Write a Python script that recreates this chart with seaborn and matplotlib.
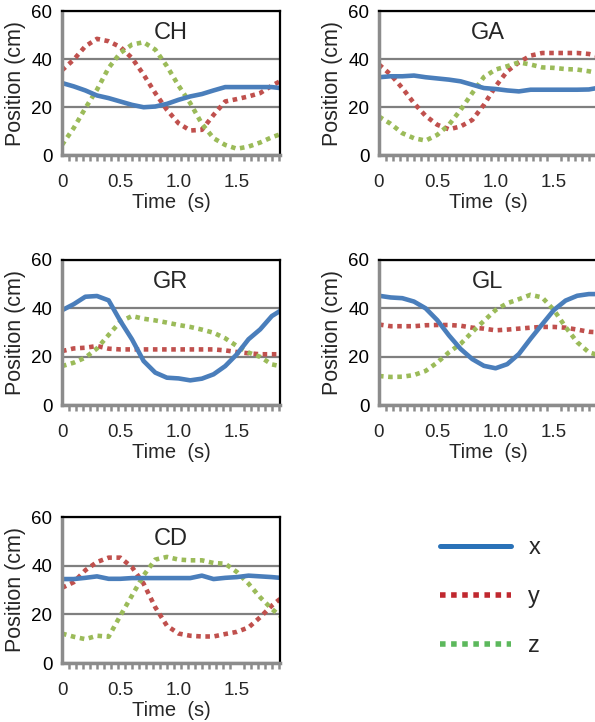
import numpy as np
import pandas as pd
from matplotlib import pyplot as plt
from matplotlib.lines import Line2D
from matplotlib.ticker import MultipleLocator
import seaborn as sns

# time samples (s)
t = [0.0, 0.1, 0.2, 0.3, 0.4, 0.5, 0.6, 0.7, 0.8, 0.9,
     1.0, 1.1, 1.2, 1.3, 1.4, 1.5, 1.6, 1.7, 1.8, 1.87]

# positions (cm)
ch_x = [30.0, 28.6, 26.9, 24.8, 23.7, 22.3, 20.9, 19.9, 20.2, 21.3,
        23.0, 24.4, 25.4, 26.9, 28.3, 28.3, 28.3, 28.3, 28.3, 27.9]
ch_y = [35.3, 39.7, 45.3, 48.4, 47.4, 45.0, 40.4, 33.5, 25.8, 18.8,
        13.2, 10.2, 10.5, 16.7, 22.3, 23.3, 24.4, 25.8, 28.9, 30.7]
ch_z = [4.2, 11.2, 19.5, 27.2, 36.3, 42.5, 46.0, 47.0, 43.9, 37.0,
        28.9, 21.6, 13.0, 7.0, 4.2, 2.6, 3.5, 5.2, 7.4, 8.6]

ga_x = [32.4, 32.8, 32.8, 33.1, 32.4, 31.9, 31.4, 30.7, 29.3, 27.9,
        27.5, 26.9, 26.5, 27.2, 27.2, 27.2, 27.2, 27.2, 27.3, 27.9]
ga_y = [37.7, 33.5, 27.9, 21.6, 16.3, 12.6, 10.7, 11.9, 14.6, 20.9,
        28.6, 34.9, 38.6, 41.4, 42.5, 42.5, 42.5, 42.5, 42.1, 41.4]
ga_z = [16.0, 13.0, 9.1, 7.0, 6.0, 8.4, 12.6, 18.8, 25.8, 32.5,
        35.6, 37.0, 38.6, 37.7, 36.5, 36.3, 35.8, 35.6, 34.9, 34.2]

gr_x = [39.2, 41.7, 44.8, 45.1, 43.3, 34.8, 27.2, 18.2, 13.4, 11.3,
        11.0, 10.2, 10.9, 12.7, 16.1, 21.0, 27.2, 31.3, 36.8, 38.9]
gr_y = [22.3, 23.4, 23.7, 24.4, 23.3, 23.0, 23.0, 23.0, 23.0, 23.0,
        23.0, 23.0, 23.0, 23.0, 22.6, 21.9, 21.4, 21.0, 21.0, 21.0]
gr_z = [16.1, 17.5, 19.6, 23.4, 29.0, 34.5, 36.8, 35.7, 35.0, 34.1,
        33.1, 32.3, 31.2, 29.9, 27.6, 24.4, 21.7, 19.9, 16.8, 16.1]

gl_x = [45.2, 44.5, 44.2, 42.8, 40.0, 35.1, 28.8, 23.2, 19.0, 16.2,
        15.2, 16.9, 21.1, 27.4, 33.4, 39.3, 43.2, 45.2, 45.9, 45.9]
gl_y = [33.3, 32.6, 32.6, 32.6, 33.0, 33.1, 33.1, 32.8, 32.0, 31.6,
        30.9, 31.2, 31.6, 32.0, 32.3, 32.3, 32.0, 31.2, 30.3, 30.1]
gl_z = [12.0, 11.6, 11.7, 12.4, 14.1, 17.6, 21.8, 25.3, 30.2, 34.8,
        39.3, 42.1, 43.8, 45.6, 44.5, 39.3, 32.3, 26.0, 21.8, 20.8]

cd_x = [34.5, 34.5, 35.0, 35.6, 34.6, 34.6, 34.9, 34.9, 34.9, 34.9,
        34.9, 34.9, 35.9, 34.5, 35.0, 35.3, 35.9, 35.6, 35.3, 35.0]
cd_y = [30.9, 33.2, 38.1, 41.5, 43.3, 43.3, 39.4, 32.6, 22.9, 15.3,
        12.1, 11.2, 10.9, 10.9, 11.9, 12.8, 14.6, 18.8, 23.6, 26.3]
cd_z = [12.1, 10.8, 9.8, 11.2, 10.8, 19.4, 27.7, 36.0, 42.5, 43.6,
        42.5, 42.2, 42.2, 41.1, 40.8, 37.4, 32.6, 27.0, 22.2, 19.4]

panels = ['CH', 'GA', 'GR', 'GL', 'CD']
series = {
    'CH': (ch_x, ch_y, ch_z),
    'GA': (ga_x, ga_y, ga_z),
    'GR': (gr_x, gr_y, gr_z),
    'GL': (gl_x, gl_y, gl_z),
    'CD': (cd_x, cd_y, cd_z),
}

sns.set_theme(style="white")
plt.rcParams['font.family'] = ['Liberation Sans', 'DejaVu Sans']

blue = '#4a7ebb'
red = '#c0504d'
green = '#9bbb59'
dot = (0, (1, 1))

W, H = 595, 722
fig = plt.figure(figsize=(W / 100, H / 100), dpi=100)

# axes boxes in pixels: left, top, bottom
boxes = {
    'CH': (62, 11, 155),
    'GA': (379, 11, 155),
    'GR': (62, 260, 405),
    'GL': (379, 260, 405),
    'CD': (62, 517, 663),
}
aw = 218

for name in panels:
    left, top, bottom = boxes[name]
    ax = fig.add_axes([left / W, 1 - bottom / H, aw / W, (bottom - top) / H])
    xs, ys, zs = series[name]
    df = pd.DataFrame({'t': t, 'x': xs, 'y': ys, 'z': zs})

    sns.lineplot(data=df, x='t', y='y', ax=ax, color=red, linewidth=3.3,
                 linestyle=dot, dash_capstyle='butt')
    sns.lineplot(data=df, x='t', y='z', ax=ax, color=green, linewidth=3.3,
                 linestyle=dot, dash_capstyle='butt')
    sns.lineplot(data=df, x='t', y='x', ax=ax, color=blue, linewidth=3.3)

    ax.set_xlim(0, 1.87)
    ax.set_ylim(0, 60)
    ax.set_yticks([0, 20, 40, 60])
    ax.set_xticks([0, 0.5, 1.0, 1.5])
    ax.set_xticklabels(['0', '0.5', '1.0', '1.5'])
    ax.xaxis.set_minor_locator(MultipleLocator(0.06))
    ax.yaxis.grid(True, color='#7f7f7f', linewidth=1.6)
    ax.xaxis.grid(False)
    ax.set_axisbelow(True)

    for s in ['top', 'right']:
        ax.spines[s].set_color('black')
        ax.spines[s].set_linewidth(1.6)
    for s in ['left', 'bottom']:
        ax.spines[s].set_color('#8c8c8c')
        ax.spines[s].set_linewidth(2.5)

    ax.tick_params(axis='y', length=0, pad=7, labelsize=13.5, colors='black')
    ax.tick_params(axis='x', which='major', length=4, width=1.8,
                   color='#8c8c8c', direction='out', pad=10, labelsize=13.5)
    ax.tick_params(axis='x', which='minor', length=4, width=1.8,
                   color='#8c8c8c', direction='out', bottom=True)

    ax.set_xlabel('Time  (s)', fontsize=14.5, labelpad=1)
    ax.set_ylabel('Position (cm)', fontsize=15.5, labelpad=4)
    ax.text(0.5, 0.85, name, transform=ax.transAxes, ha='center',
            va='center', fontsize=17)

# legend
handles = [
    Line2D([], [], color='#2a72b8', linewidth=3.6),
    Line2D([], [], color='#c0282f', linewidth=4, linestyle=dot,
           dash_capstyle='butt'),
    Line2D([], [], color='#5cb85c', linewidth=4, linestyle=dot,
           dash_capstyle='butt'),
]
fig.legend(handles, ['x', 'y', 'z'], loc='center',
           bbox_to_anchor=(490 / W, 1 - 597 / H), frameon=False,
           fontsize=17, handlelength=3.0, handletextpad=0.75,
           labelspacing=1.15, borderpad=0)

fig.savefig('out.png', dpi=100)
plt.close()
